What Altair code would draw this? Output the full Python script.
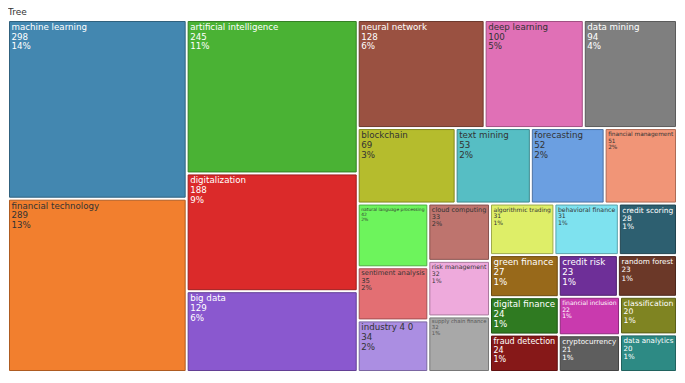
import altair as alt
import pandas as pd

# ---- data ----
keywords = [
    "machine learning", "financial technology", "artificial intelligence",
    "digitalization", "big data", "neural network", "deep learning",
    "data mining", "blockchain", "text mining", "forecasting",
    "financial management", "natural language processing",
    "sentiment analysis", "industry 4 0", "cloud computing",
    "risk management", "supply chain finance", "algorithmic trading",
    "behavioral finance", "credit scoring", "green finance",
    "digital finance", "fraud detection", "credit risk", "random forest",
    "financial inclusion", "cryptocurrency", "classification",
    "data analytics",
]
counts = [298, 289, 245, 188, 129, 128, 100, 94, 69, 53, 52, 51, 42, 35, 34,
          33, 32, 32, 31, 31, 28, 27, 24, 24, 23, 23, 22, 21, 20, 20]

fill_colors = [
    "#4387B0", "#F27F2E", "#4AB234", "#DB2A2A", "#8A58CF", "#9A5141",
    "#E070B6", "#7F7F7F", "#B5BC2D", "#56BEC4", "#6B9FE1", "#F19577",
    "#6DF45C", "#E36F73", "#AB8EE2", "#BE746E", "#EEAADC", "#A8A8A8",
    "#DEEE68", "#7EE2EF", "#2D5F70", "#98691A", "#2F7A21", "#861818",
    "#6E2F98", "#6B3828", "#C93AAE", "#5E5E5E", "#7F8422", "#2D8A84",
]
text_colors = [
    "#FFFFFF", "#333333", "#FFFFFF", "#FFFFFF", "#FFFFFF", "#FFFFFF",
    "#333333", "#FFFFFF", "#333333", "#333333", "#333333", "#333333",
    "#333333", "#333333", "#333333", "#333333", "#333333", "#555555",
    "#333333", "#333333", "#FFFFFF", "#FFFFFF", "#FFFFFF", "#FFFFFF",
    "#FFFFFF", "#FFFFFF", "#FFFFFF", "#FFFFFF", "#FFFFFF", "#FFFFFF",
]

W, H = 669, 352          # plot area in px
LAYOUT_ASPECT = 1.4      # aspect of the space in which the squarified layout is decided
MAX_FONT = 8.7

# DejaVu Sans advance widths (em) used to fit labels into their cells
CHAR_EM = {
    " ": 0.318, "a": 0.613, "b": 0.635, "c": 0.550, "d": 0.635, "e": 0.615,
    "f": 0.352, "g": 0.635, "h": 0.634, "i": 0.278, "j": 0.278, "k": 0.579,
    "l": 0.278, "m": 0.974, "n": 0.634, "o": 0.612, "p": 0.635, "q": 0.635,
    "r": 0.411, "s": 0.521, "t": 0.392, "u": 0.634, "v": 0.592, "w": 0.818,
    "x": 0.592, "y": 0.592, "z": 0.525,
}


def em_width(s):
    return sum(CHAR_EM.get(ch, 0.636) for ch in s)


def darken(hex_color, f=0.72):
    h = hex_color.lstrip("#")
    r, g, b = (int(h[i:i + 2], 16) for i in (0, 2, 4))
    return "#%02x%02x%02x" % (int(r * f), int(g * f), int(b * f))


def squarify(values, x0, y0, x1, y1):
    """Squarified treemap (Bruls et al.), values sorted descending."""
    n = len(values)
    rects = [None] * n
    remaining = float(sum(values))
    i0 = 0
    while i0 < n:
        dx, dy = x1 - x0, y1 - y0
        i1 = i0
        s = values[i1]
        i1 += 1
        mn = mx = s
        alpha = max(dy / dx, dx / dy) / remaining
        beta = s * s * alpha
        best = max(mx / beta, beta / mn)
        while i1 < n:
            v = values[i1]
            s2 = s + v
            mn2, mx2 = min(mn, v), max(mx, v)
            beta = s2 * s2 * alpha
            r = max(mx2 / beta, beta / mn2)
            if r > best:
                break
            best, s, mn, mx = r, s2, mn2, mx2
            i1 += 1
        if dx < dy:   # row across the top
            h = dy * s / remaining
            cx = x0
            for i in range(i0, i1):
                w = dx * values[i] / s
                rects[i] = (cx, y0, cx + w, y0 + h)
                cx += w
            y0 += h
        else:         # column at the left
            w = dx * s / remaining
            cy = y0
            for i in range(i0, i1):
                hh = dy * values[i] / s
                rects[i] = (x0, cy, x0 + w, cy + hh)
                cy += hh
            x0 += w
        remaining -= s
        i0 = i1
    return rects


order = sorted(range(len(counts)), key=lambda i: -counts[i])
sorted_vals = [counts[i] for i in order]
layout = squarify(sorted_vals, 0.0, 0.0, LAYOUT_ASPECT, 1.0)
total = sum(counts)

cell_rows, text_rows = [], []
for k, i in enumerate(order):
    x0, y0, x1, y1 = layout[k]
    x0, x1 = x0 / LAYOUT_ASPECT, x1 / LAYOUT_ASPECT
    name = keywords[i]
    cell_rows.append({"name": name, "x0": x0, "x1": x1, "y0": y0, "y1": y1})
    wpx = (x1 - x0) * W
    fs = min(MAX_FONT, (wpx - 7) / em_width(name))
    lines = [name, str(counts[i]), "%d%%" % round(100 * counts[i] / total)]
    for j, t in enumerate(lines):
        text_rows.append({
            "name": name, "text": t, "fs": round(fs, 2), "tc": text_colors[i],
            "x": x0 + 3.5 / W,
            "y": y0 + (3.0 + j * fs * 1.12) / H,
        })

cells = pd.DataFrame(cell_rows)
texts = pd.DataFrame(text_rows)

xs = alt.Scale(domain=[0, 1], nice=False, zero=False)
ys = alt.Scale(domain=[0, 1], nice=False, zero=False, reverse=True)

rects = alt.Chart(cells).mark_rect(
    xOffset=1.5, x2Offset=-1.5, yOffset=1.5, y2Offset=-1.5, strokeWidth=1
).encode(
    x=alt.X("x0:Q", scale=xs, axis=None),
    x2="x1:Q",
    y=alt.Y("y0:Q", scale=ys, axis=None),
    y2="y1:Q",
    fill=alt.Fill("name:N", scale=alt.Scale(domain=keywords, range=fill_colors), legend=None),
    stroke=alt.Stroke("name:N", scale=alt.Scale(domain=keywords, range=[darken(c) for c in fill_colors]), legend=None),
)

labels = alt.Chart(texts).mark_text(
    align="left", baseline="top", font="DejaVu Sans"
).encode(
    x=alt.X("x:Q", scale=xs, axis=None),
    y=alt.Y("y:Q", scale=ys, axis=None),
    text="text:N",
    size=alt.Size("fs:Q", scale=None),
    color=alt.Color("tc:N", scale=None),
)

chart = alt.layer(rects, labels).properties(
    width=W, height=H,
    padding={"left": 0, "right": 0, "top": 0, "bottom": 0},
    title=alt.TitleParams("Tree", anchor="start", fontSize=9, fontWeight="normal",
                          font="DejaVu Sans", color="#333333", offset=3),
).configure_view(stroke=None)

chart.save("out.html", embed_options={"renderer": "svg", "actions": False})
